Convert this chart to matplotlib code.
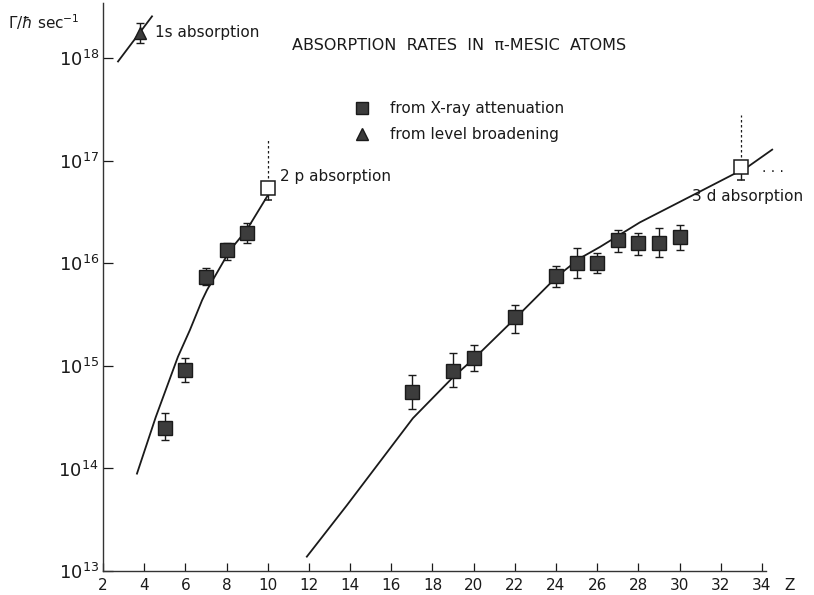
import matplotlib
matplotlib.use("Agg")
import matplotlib.pyplot as plt
from matplotlib.ticker import FixedLocator, FuncFormatter

# ----- data (rates in 1/sec) -----
xray_z = [5, 6, 7, 8, 9, 17, 19, 20, 22, 24, 25, 26, 27, 28, 29, 30]
xray_rate = [2.5e14, 9.1e14, 7.4e15, 1.35e16, 2.0e16, 5.6e14, 9.0e14, 1.2e15,
             3.0e15, 7.6e15, 1.0e16, 1.0e16, 1.7e16, 1.6e16, 1.6e16, 1.8e16]
xray_low = [1.9e14, 7.0e14, 6.2e15, 1.07e16, 1.6e16, 3.8e14, 6.3e14, 9.0e14,
            2.1e15, 5.9e15, 7.2e15, 8.0e15, 1.3e16, 1.2e16, 1.15e16, 1.35e16]
xray_high = [3.5e14, 1.2e15, 9.1e15, 1.6e16, 2.5e16, 8.1e14, 1.35e15, 1.6e15,
             3.9e15, 9.5e15, 1.4e16, 1.26e16, 2.1e16, 2.0e16, 2.2e16, 2.35e16]

open_z = [10, 33]
open_rate = [5.4e16, 8.7e16]
open_low = [4.2e16, 6.5e16]
open_high = [1.6e17, 2.8e17]

level_z = [3.8]
level_rate = [1.75e18]
level_low = [1.4e18]
level_high = [2.2e18]

# hand-drawn curves, log10 of rate
curve_1s_z = [2.73, 4.38]
curve_1s_lg = [17.97, 18.41]
curve_2p_z = [3.65, 4.56, 5.64, 6.22, 6.81, 7.05, 8.17, 8.99, 9.96, 10.2]
curve_2p_lg = [13.95, 14.50, 15.09, 15.35, 15.64, 15.74, 16.13, 16.33, 16.65, 16.72]
curve_3d_z = [11.9, 13.84, 17.05, 19.0, 20.06, 22.1, 24.09, 25.16, 26.13,
              28.07, 30.98, 33.3, 34.5]
curve_3d_lg = [13.14, 13.64, 14.49, 14.89, 15.08, 15.48, 15.88, 16.05, 16.16,
               16.40, 16.70, 16.94, 17.11]

x_ticks = list(range(2, 35, 2))
y_ticks = [1e13, 1e14, 1e15, 1e16, 1e17, 1e18]

W, H = 814, 595
fig = plt.figure(figsize=(W / 100, H / 100), dpi=100)
ax = fig.add_axes([103 / W, 24 / H, (766 - 103) / W, (571 - 2) / H])
ax.set_yscale("log")
ax.set_xlim(2, 34.2)
ax.set_ylim(1e13, 10 ** 18.55)

ink = "#1a1a1a"
mark = "#3c3c3c"

# curves
ax.plot(curve_1s_z, [10 ** v for v in curve_1s_lg], color=ink, lw=1.3, clip_on=False)
ax.plot(curve_2p_z, [10 ** v for v in curve_2p_lg], color=ink, lw=1.3)
ax.plot(curve_3d_z, [10 ** v for v in curve_3d_lg], color=ink, lw=1.3, clip_on=False)

# filled squares with error bars
err = [[r - lo for r, lo in zip(xray_rate, xray_low)],
       [hi - r for r, hi in zip(xray_rate, xray_high)]]
ax.errorbar(xray_z, xray_rate, yerr=err, fmt="s", ms=9.5, mfc=mark, mec=ink,
            ecolor=ink, elinewidth=1.0, capsize=3, capthick=1.0, zorder=3)

# open squares with dashed upper bars
for z, r, lo, hi in zip(open_z, open_rate, open_low, open_high):
    ax.plot([z, z], [r, hi], color=ink, lw=0.9, ls=(0, (2, 2)), zorder=2)
    ax.errorbar([z], [r], yerr=[[r - lo], [0]], fmt="s", ms=9.5, mfc="white",
                mec=ink, mew=1.1, ecolor=ink, elinewidth=1.0, capsize=3, zorder=3)

# level broadening triangle
ax.errorbar(level_z, level_rate,
            yerr=[[level_rate[0] - level_low[0]], [level_high[0] - level_rate[0]]],
            fmt="^", ms=9, mfc=mark, mec=ink, ecolor=ink, elinewidth=1.0,
            capsize=3, zorder=3, clip_on=False)

# axes styling
for s in ["top", "right"]:
    ax.spines[s].set_visible(False)
for s in ["left", "bottom"]:
    ax.spines[s].set_color("#333333")
    ax.spines[s].set_linewidth(1.0)
    ax.spines[s].set_linestyle((0, (4, 1)))

ax.xaxis.set_major_locator(FixedLocator(x_ticks))
ax.yaxis.set_major_locator(FixedLocator(y_ticks))
ax.yaxis.set_minor_locator(FixedLocator([]))
ax.yaxis.set_major_formatter(FuncFormatter(lambda v, p: r"$10^{%d}$" % round(__import__("math").log10(v))))
ax.tick_params(axis="x", direction="in", length=6, width=0.9, labelsize=11, pad=5, colors=ink)
ax.tick_params(axis="y", direction="in", length=7, width=0.9, labelsize=13, pad=3, colors=ink)

# annotations (figure pixel positions)
def ftext(x, y, s, **kw):
    fig.text(x / W, 1 - y / H, s, va="center", color=ink, **kw)

ftext(8, 22, r"$\Gamma/\hbar$ sec$^{-1}$", fontsize=11)
ftext(155, 33, "1s absorption", fontsize=11)
ftext(292, 45, "ABSORPTION  RATES  IN  \u03c0-MESIC  ATOMS", fontsize=11.5)
ftext(390, 108, "from X-ray attenuation", fontsize=11)
ftext(390, 135, "from level broadening", fontsize=11)
ftext(280, 176, "2 p absorption", fontsize=11)
ftext(692, 197, "3 d absorption", fontsize=11)
ftext(762, 168, ". . .", fontsize=10)
ftext(784, 586, "Z", fontsize=11)

# legend symbols
fig.lines.append(plt.Line2D([362 / W], [1 - 108 / H], marker="s", ms=9, mfc=mark,
                            mec=ink, transform=fig.transFigure))
fig.lines.append(plt.Line2D([362 / W], [1 - 134 / H], marker="^", ms=9, mfc=mark,
                            mec=ink, transform=fig.transFigure))

fig.savefig("out.png", dpi=100)
